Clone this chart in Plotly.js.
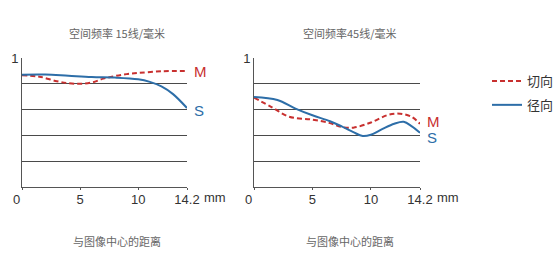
<!DOCTYPE html>
<html><head><meta charset="utf-8">
<script src="https://cdn.plot.ly/plotly-3.0.1.min.js"></script>
<style>html,body{margin:0;padding:0;background:#fff}#c{width:560px;height:253px}</style>
</head><body><div id="c"></div>
<script>
// Left panel: 15 lines/mm
const leftMx = [0, 1.5, 3, 4, 5, 6, 7, 8, 9, 10, 12, 14.2];
const leftMy = [0.866, 0.855, 0.82, 0.805, 0.80, 0.81, 0.84, 0.86, 0.875, 0.884, 0.897, 0.899];
const leftSx = [0, 2, 4, 6, 8, 10, 11, 12, 13, 14.2];
const leftSy = [0.871, 0.872, 0.862, 0.852, 0.848, 0.835, 0.815, 0.78, 0.72, 0.612];
// Right panel: 45 lines/mm
const rightMx = [0, 1.5, 3, 5, 6.5, 7.5, 8.5, 10, 11.5, 12.5, 13.5, 14.2];
const rightMy = [0.693, 0.62, 0.545, 0.522, 0.495, 0.465, 0.46, 0.50, 0.56, 0.568, 0.543, 0.49];
const rightSx = [0, 2, 3.5, 5, 6.5, 7.5, 8.5, 9.3, 10, 11, 12, 12.8, 13.5, 14.2];
const rightSy = [0.698, 0.675, 0.61, 0.556, 0.51, 0.47, 0.425, 0.395, 0.405, 0.45, 0.49, 0.505, 0.47, 0.42];

const xTickVals = [0, 5, 10, 14.2];
const xTickText = ['0\u00a0\u00a0\u00a0', '5', '10', '14.2'];
const panelTitles = ['空间频率 15线/毫米', '空间频率45线/毫米'];
const xTitle = '与图像中心的距离';
const legendNames = ['切向', '径向'];

const RED = '#c8302f', BLUE = '#2d6ea8';
const NUM = 'Liberation Sans, Arial, sans-serif';
const CJK = 'Noto Sans CJK SC, sans-serif';

const traces = [
  {x: leftMx, y: leftMy, xaxis: 'x', yaxis: 'y', name: legendNames[0], mode: 'lines', legendgroup: 'a',
   line: {color: RED, width: 2, dash: '5px,3px', shape: 'spline', smoothing: 1}, legendrank: 1},
  {x: leftSx, y: leftSy, xaxis: 'x', yaxis: 'y', name: legendNames[1], mode: 'lines', legendgroup: 'b',
   line: {color: BLUE, width: 2, shape: 'spline', smoothing: 1}, legendrank: 2},
  {x: rightMx, y: rightMy, xaxis: 'x2', yaxis: 'y2', name: legendNames[0], mode: 'lines', showlegend: false,
   line: {color: RED, width: 2, dash: '5px,3px', shape: 'spline', smoothing: 1}},
  {x: rightSx, y: rightSy, xaxis: 'x2', yaxis: 'y2', name: legendNames[1], mode: 'lines', showlegend: false,
   line: {color: BLUE, width: 2, shape: 'spline', smoothing: 1}}
];

const W = 560, H = 253;
function xa(d0, d1, anchor) {
  return {domain: [d0 / W, d1 / W], range: [0, 14.2], anchor: anchor, showgrid: false, zeroline: false,
    showline: true, linecolor: '#555', linewidth: 1, tickvals: xTickVals, ticktext: xTickText,
    ticks: 'outside', ticklen: 2, tickcolor: '#555', ticklabelstandoff: -2,
    tickfont: {family: NUM, size: 13, color: '#333'}, fixedrange: true};
}
function ya(anchor) {
  return {domain: [(H - 187) / H, (H - 58) / H], range: [0, 1], anchor: anchor, showgrid: false, zeroline: false,
    showline: true, linecolor: '#555', linewidth: 1, tickvals: [1], ticktext: ['1'], ticks: '',
    tickfont: {family: NUM, size: 13, color: '#333'},
    minor: {tickvals: [0.2, 0.4, 0.6, 0.8], showgrid: true, gridcolor: '#4a4a4a', gridwidth: 1, ticks: ''}, fixedrange: true};
}

const ann = [];
const centers = [117, 350];
panelTitles.forEach((t, i) => ann.push({text: t, xref: 'paper', yref: 'paper', x: centers[i] / W, y: (H - 33) / H,
  showarrow: false, xanchor: 'center', yanchor: 'middle', font: {family: CJK, size: 11, color: '#666'}}));
centers.forEach(c => ann.push({text: xTitle, xref: 'paper', yref: 'paper', x: c / W, y: (H - 241) / H,
  showarrow: false, xanchor: 'center', yanchor: 'middle', font: {family: CJK, size: 11, color: '#666'}}));
[187, 420].forEach(p => ann.push({text: 'mm', xref: 'paper', yref: 'paper', x: (p + 15) / W, y: (H - 197) / H,
  showarrow: false, xanchor: 'left', yanchor: 'middle', font: {family: NUM, size: 13, color: '#333'}}));
// M / S labels
const labels = [
  {t: 'M', x: 14.2, y: leftMy[leftMy.length - 1], xr: 'x', yr: 'y', c: RED, dy: 0},
  {t: 'S', x: 14.2, y: leftSy[leftSy.length - 1], xr: 'x', yr: 'y', c: BLUE, dy: -2},
  {t: 'M', x: 14.2, y: rightMy[rightMy.length - 1], xr: 'x2', yr: 'y2', c: RED, dy: 2},
  {t: 'S', x: 14.2, y: rightSy[rightSy.length - 1], xr: 'x2', yr: 'y2', c: BLUE, dy: -5}
];
labels.forEach(l => ann.push({text: l.t, x: l.x, y: l.y, xref: l.xr, yref: l.yr, showarrow: false,
  xanchor: 'left', yanchor: 'middle', xshift: 5, yshift: l.dy, font: {family: NUM, size: 15, color: l.c}}));

const layout = {
  width: W, height: H, margin: {l: 0, r: 0, t: 0, b: 0}, paper_bgcolor: '#fff', plot_bgcolor: '#fff',
  xaxis: xa(22, 187, 'y'), yaxis: ya('x'), xaxis2: xa(254, 420, 'y2'), yaxis2: ya('x2'),
  showlegend: true,
  legend: {x: 487 / W, y: (H - 66) / H, xanchor: 'left', yanchor: 'top', font: {family: CJK, size: 13, color: '#333'},
    bgcolor: 'rgba(0,0,0,0)', tracegroupgap: 4, itemwidth: 30},
  annotations: ann
};
Plotly.newPlot('c', traces, layout, {displayModeBar: false, staticPlot: true});
</script></body></html>
